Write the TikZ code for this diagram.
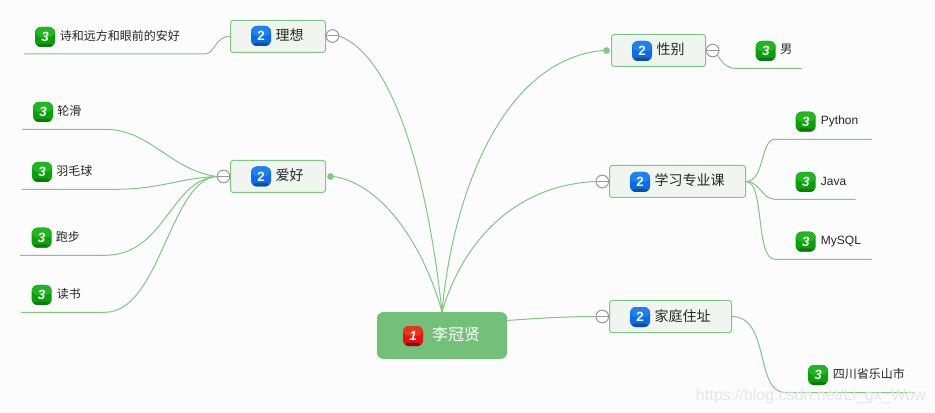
\documentclass[tikz,border=0pt]{standalone}
\usepackage{fontspec}
\setmainfont{Liberation Sans}
\newfontfamily\cjk{Noto Sans CJK SC}
\definecolor{pagebg}{HTML}{FCFCFC}
\definecolor{linkgreen}{HTML}{80C784}
\definecolor{maingreen}{HTML}{73C079}
\definecolor{boxfill}{HTML}{F0F6EF}
\definecolor{foldgray}{HTML}{999999}
\definecolor{marktext}{HTML}{E6E6E6}
\definecolor{inktext}{HTML}{262626}
\definecolor{redtop}{HTML}{E8341C}
\definecolor{redmid}{HTML}{E81010}
\definecolor{redlow}{HTML}{8A0A20}
\definecolor{bluetop}{HTML}{1F80F0}
\definecolor{bluemid}{HTML}{0A6CE8}
\definecolor{bluelow}{HTML}{0A4FA0}
\definecolor{greentop}{HTML}{22B522}
\definecolor{greenmid}{HTML}{0AA00A}
\definecolor{greenlow}{HTML}{0A7A0A}
\begin{document}
\begin{tikzpicture}[
  x=0.75pt, y=-0.75pt,
  link/.style={draw=linkgreen, line width=0.75pt},
  mainbox/.style={rectangle, rounded corners=4.5pt, fill=maingreen, minimum width=97.5pt, minimum height=35pt},
  topicbox/.style={rectangle, rounded corners=2pt, draw=linkgreen, fill=boxfill, line width=0.75pt, minimum height=24pt},
  maintext/.style={font=\cjk\fontsize{12}{14}\selectfont, text=white, inner sep=0pt},
  topictext/.style={font=\cjk\fontsize{10.5}{12}\selectfont, text=inktext, inner sep=0pt},
  leaftext/.style={font=\cjk\fontsize{9}{11}\selectfont, text=inktext, anchor=west, inner sep=0pt},
  latintext/.style={font=\fontsize{9}{11}\selectfont, anchor=west, inner sep=0pt, text=inktext},
  badge/.style n args={3}{rectangle, rounded corners=4.5pt, minimum size=15pt, inner sep=0pt, fill=#1, text=white,
    font=\fontsize{10}{11}\selectfont\bfseries,
    path picture={
      \fill[#2] (path picture bounding box.north west) rectangle (path picture bounding box.east);
      \fill[#3] ([yshift=2.5pt]path picture bounding box.south west) rectangle (path picture bounding box.south east);
    }},
  badgeone/.style={badge={redmid}{redtop}{redlow}, font=\fontsize{10}{11}\selectfont\bfseries\itshape},
  badgetwo/.style={badge={bluemid}{bluetop}{bluelow}},
  badgethree/.style={badge={greenmid}{greentop}{greenlow}, font=\fontsize{10}{11}\selectfont\bfseries\itshape},
  foldmark/.style={circle, draw=foldgray, fill=white, line width=0.75pt, minimum size=9.5pt, inner sep=0pt,
    path picture={\draw[foldgray, line width=0.75pt] (path picture bounding box.west) -- (path picture bounding box.east);}},
  joindot/.style={circle, fill=linkgreen, minimum size=5pt, inner sep=0pt},
  watermark/.style={font=\fontsize{12}{15}\selectfont, text=marktext, inner sep=0pt}
]

\useasboundingbox (0,0) rectangle (935,413);
\fill[pagebg] (0,0) rectangle (935,413);

% Root topic
\node[mainbox] (root) at (442,335.5) {};
\node[badgeone] (rootbadge) at (413,336) {1};
\node[maintext] (rootlabel) at (456,334.5) {李冠贤};

% Left side topics
\node[topicbox, minimum width=71.25pt] (ideal) at (278,36.5) {};
\node[badgetwo] (idealbadge) at (261,36) {2};
\node[topictext] (ideallabel) at (289.5,35.5) {理想};
\node[foldmark] (idealfold) at (332.5,36) {};

\node[topicbox, minimum width=71.25pt] (hobby) at (278,176.5) {};
\node[badgetwo] (hobbybadge) at (261,176.5) {2};
\node[topictext] (hobbylabel) at (289.5,175.5) {爱好};
\node[foldmark] (hobbyfold) at (223.5,176.5) {};
\node[joindot] (hobbydot) at (330.5,176.5) {};

% Right side topics
\node[topicbox, minimum width=70.5pt] (gender) at (658.5,50.5) {};
\node[badgetwo] (genderbadge) at (642,51) {2};
\node[topictext] (genderlabel) at (670.5,49.5) {性别};
\node[foldmark] (genderfold) at (712.7,50.5) {};
\node[joindot] (genderdot) at (606.5,50.5) {};

\node[topicbox, minimum width=102pt] (major) at (677.5,181.5) {};
\node[badgetwo] (majorbadge) at (640,182) {2};
\node[topictext] (majorlabel) at (689.5,180.5) {学习专业课};
\node[foldmark] (majorfold) at (602.3,181.5) {};

\node[topicbox, minimum width=91.5pt] (home) at (670.5,316.5) {};
\node[badgetwo] (homebadge) at (640,317) {2};
\node[topictext] (homelabel) at (682.5,316) {家庭住址};
\node[foldmark] (homefold) at (602.3,316.5) {};

% Leaves under the ideal topic
\node[badgethree] (poembadge) at (45,37) {3};
\node[leaftext] (poemlabel) at (59.5,36) {诗和远方和眼前的安好};
\coordinate (poembend) at (205,54);
\coordinate (poemend) at (24,54);

% Leaves under the hobby topic
\node[badgethree] (skatebadge) at (43,112) {3};
\node[leaftext] (skatelabel) at (57,111) {轮滑};
\coordinate (skatebend) at (105,129.3);
\coordinate (skateend) at (22,129.3);

\node[badgethree] (badmintonbadge) at (42,172) {3};
\node[leaftext] (badmintonlabel) at (56,171) {羽毛球};
\coordinate (badmintonbend) at (115,189.3);
\coordinate (badmintonend) at (21.5,189.3);

\node[badgethree] (runbadge) at (41.7,237.7) {3};
\node[leaftext] (runlabel) at (55.5,237) {跑步};
\coordinate (runbend) at (105,255.3);
\coordinate (runend) at (20,255.3);

\node[badgethree] (readbadge) at (41.7,295) {3};
\node[leaftext] (readlabel) at (56.5,294) {读书};
\coordinate (readbend) at (105,312.3);
\coordinate (readend) at (21,312.3);

% Leaf under the gender topic
\node[badgethree] (malebadge) at (765.7,51) {3};
\node[leaftext] (malelabel) at (780,49.5) {男};
\coordinate (malebend) at (735,68.3);
\coordinate (maleend) at (802,68.3);

% Leaves under the major topic
\node[badgethree] (pythonbadge) at (805.7,121.7) {3};
\node[latintext] (pythonlabel) at (820.7,121.5) {Python};
\coordinate (pythonbend) at (775,139.3);
\coordinate (pythonend) at (871.7,139.3);

\node[badgethree] (javabadge) at (805.7,182) {3};
\node[latintext] (javalabel) at (820.7,181) {Java};
\coordinate (javabend) at (775,199.3);
\coordinate (javaend) at (855.7,199.3);

\node[badgethree] (mysqlbadge) at (805.7,241.7) {3};
\node[latintext] (mysqllabel) at (820.7,241.5) {MySQL};
\coordinate (mysqlbend) at (775,259.3);
\coordinate (mysqlend) at (871.7,259.3);

% Leaf under the home topic
\node[badgethree] (citybadge) at (818,375) {3};
\node[leaftext] (citylabel) at (832.7,373.5) {四川省乐山市};
\coordinate (citybend) at (785,392.5);
\coordinate (cityend) at (914,392.5);

% Root to topics
\draw[link] (root.north) .. controls (430,200) and (400,60) .. (idealfold.east);
\draw[link] (root.north) .. controls (425,250) and (385,185) .. (hobbydot.east);
\draw[link] (root.north) .. controls (452,200) and (500,60) .. (genderdot.west);
\draw[link] (root.north) .. controls (465,235) and (520,185) .. (majorfold.west);
\draw[link] (root.east) ++(0,-15) .. controls (540,318) and (570,316.5) .. (homefold.west);

% Topics to leaves
\draw[link] (ideal.west) .. controls (215,36) and (215,54) .. (poembend) -- (poemend);
\draw[link] (hobbyfold.west) .. controls (170,170) and (150,129.3) .. (skatebend) -- (skateend);
\draw[link] (hobbyfold.west) .. controls (180,178) and (160,189.3) .. (badmintonbend) -- (badmintonend);
\draw[link] (hobbyfold.west) .. controls (170,180) and (165,255.3) .. (runbend) -- (runend);
\draw[link] (hobbyfold.west) .. controls (170,180) and (160,312.3) .. (readbend) -- (readend);
\draw[link] (genderfold.south east) .. controls (722,62) and (726,68.3) .. (malebend) -- (maleend);
\draw[link] (major.east) .. controls (765,181.5) and (760,139.3) .. (pythonbend) -- (pythonend);
\draw[link] (major.east) .. controls (760,181.5) and (762,199.3) .. (javabend) -- (javaend);
\draw[link] (major.east) .. controls (765,181.5) and (755,259.3) .. (mysqlbend) -- (mysqlend);
\draw[link] (home.east) .. controls (770,316.5) and (755,392.5) .. (citybend) -- (cityend);

% Site address over the lower right corner
\node[watermark] (sitemark) at (811,396) {https://blog.csdn.net/Li\_gx\_Wow};

\end{tikzpicture}
\end{document}
